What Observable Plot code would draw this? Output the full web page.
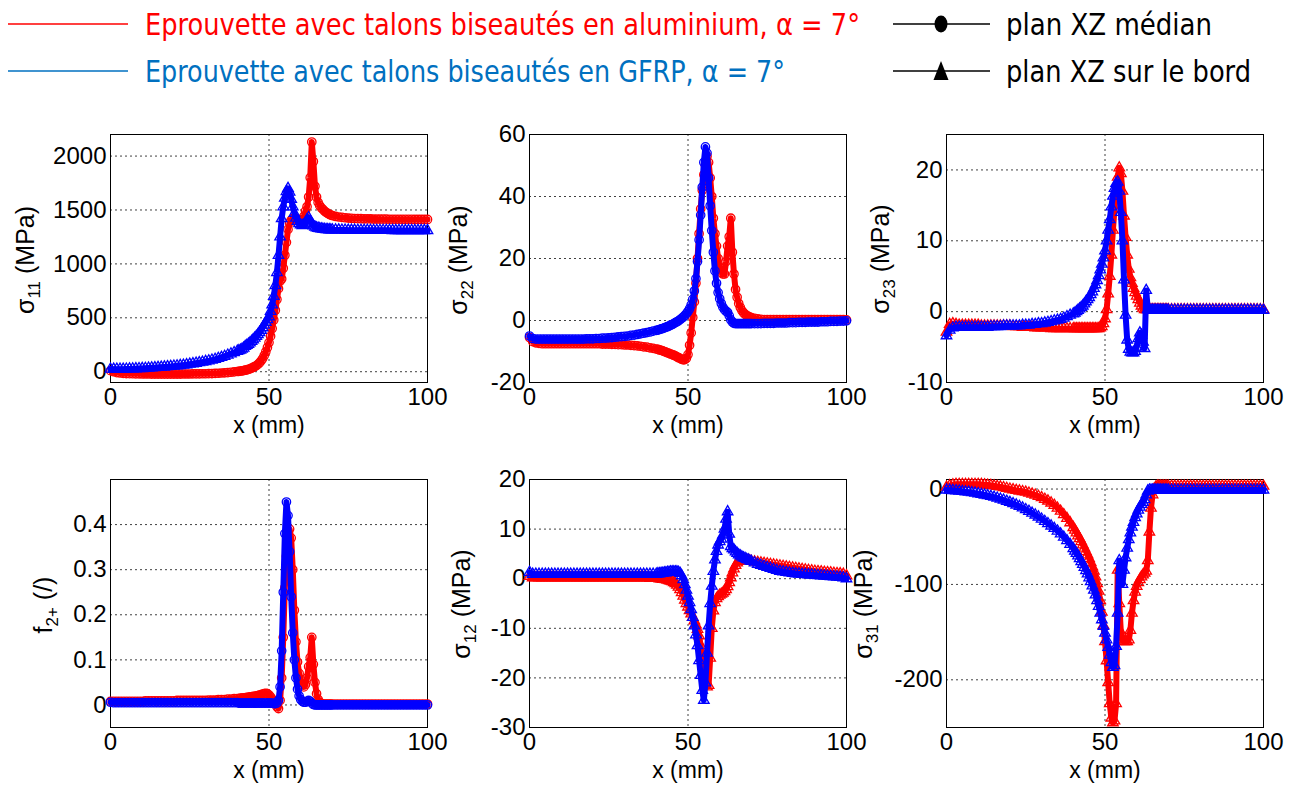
<!DOCTYPE html>
<html lang="fr">
<head>
<meta charset="utf-8">
<script src="https://cdn.jsdelivr.net/npm/d3@7"></script>
<script src="https://cdn.jsdelivr.net/npm/@observablehq/plot@0.6"></script>
<style>
  html, body { margin:0; padding:0; background:#fff; }
  #fig { position:relative; width:1294px; height:785px; overflow:hidden; background:#fff; font-family:"Liberation Sans", Arial, Helvetica, sans-serif; }
  .panel { position:absolute; }
  .panel svg { display:block; max-width:none !important; }
  .ylab { position:absolute; font-size:25px; line-height:1; white-space:nowrap; color:#000; transform:translate(-50%,-50%) rotate(-90deg); }
  .ylab sub { font-size:17px; vertical-align:-0.3em; line-height:1; }
  #legend { position:absolute; left:0; top:0; }
</style>
</head>
<body>
<div id="fig"></div>
<script>
// ---------- DATA ----------
const xGrid = [
0,1,2,3,4,5,6,7,8,9,10,
11,12,13,14,15,16,17,18,19,20,
21,22,23,24,25,26,27,28,29,30,
31,32,33,34,35,36,37,38,39,40,
40.5,41,41.5,42,42.5,43,43.5,44,44.5,45,
45.5,46,46.5,47,47.5,48,48.5,49,49.5,50,
50.5,51,51.5,52,52.5,53,53.5,54,54.5,55,
55.5,56,56.5,57,57.5,58,58.5,59,59.5,60,
60.5,61,61.5,62,62.5,63,63.5,64,64.5,65,
65.5,66,66.5,67,67.5,68,68.5,69,69.5,70,
71,72,73,74,75,76,77,78,79,80,
81,82,83,84,85,86,87,88,89,90,
91,92,93,94,95,96,97,98,99,100];

// sigma11 (MPa)
const sigma11Alu = [
10,0,-8,-12,-15,-17,-18,-19,-20,-20,-21,
-21,-21,-22,-22,-22,-22,-22,-22,-22,-22,
-22,-22,-21,-21,-21,-20,-20,-20,-19,-19,
-18,-17,-16,-14,-12,-10,-8,-5,-2,2,
4,6,8,11,14,18,22,27,33,40,
48,57,68,82,100,122,150,185,225,270,
330,400,480,570,670,770,840,860,960,1080,
1200,1320,1380,1405,1420,1425,1420,1410,1400,1400,
1410,1440,1490,1530,1620,1800,2130,1950,1720,1620,
1570,1540,1520,1505,1490,1478,1468,1460,1452,1447,
1440,1435,1431,1428,1425,1423,1421,1420,1419,1418,
1417,1417,1416,1416,1415,1415,1415,1414,1414,1414,
1414,1413,1413,1413,1413,1412,1412,1412,1412,1412];
const sigma11Gfrp = [
25,24,23,23,24,25,26,27,28,29,30,
32,34,36,38,40,42,44,47,49,52,
55,58,61,65,70,74,79,84,89,95,
101,108,115,124,133,143,154,166,178,190,
195,200,210,220,235,245,255,268,282,297,
312,328,345,364,385,408,432,458,484,510,
560,620,700,800,920,1080,1250,1420,1530,1610,
1670,1700,1665,1600,1530,1470,1425,1395,1375,1362,
1356,1360,1380,1410,1430,1400,1370,1352,1342,1335,
1331,1328,1325,1322,1320,1319,1318,1317,1316,1316,
1315,1315,1314,1314,1313,1313,1313,1312,1312,1312,
1312,1312,1311,1311,1311,1311,1311,1311,1310,1310,
1310,1310,1310,1310,1310,1310,1310,1310,1310,1310];

// sigma22 (MPa)
const sigma22Alu = [
-5.5,-6.8,-7.2,-7.4,-7.5,-7.5,-7.5,-7.5,-7.5,-7.5,-7.5,
-7.5,-7.5,-7.5,-7.5,-7.5,-7.5,-7.5,-7.5,-7.5,-7.5,
-7.5,-7.5,-7.6,-7.6,-7.6,-7.7,-7.7,-7.8,-7.8,-7.9,
-7.9,-8.0,-8.1,-8.2,-8.3,-8.5,-8.6,-8.8,-9.0,-9.2,
-9.3,-9.5,-9.6,-9.8,-10.0,-10.2,-10.4,-10.6,-10.8,-11.0,
-11.2,-11.4,-11.7,-12.0,-12.2,-12.5,-12.7,-12.6,-12.2,-11.0,
-8,-4,1,6,12,20,28,36,42,47,
50,53,51,46,40,33,28,24,20,17,
15.5,15,15,19,24,27,33,22,15,10,
7.5,5.5,4.2,3.2,2.5,2,1.6,1.3,1.1,0.9,
0.7,0.5,0.4,0.3,0.3,0.3,0.3,0.3,0.3,0.3,
0.3,0.3,0.3,0.3,0.3,0.3,0.3,0.3,0.3,0.3,
0.3,0.3,0.3,0.3,0.3,0.3,0.3,0.3,0.3,0.2];
const sigma22Gfrp = [
-5,-5.8,-6,-6,-6,-6,-6,-6,-6,-6,-6,
-6,-6,-6,-6,-6,-6,-6,-5.9,-5.9,-5.9,
-5.8,-5.8,-5.7,-5.7,-5.6,-5.5,-5.4,-5.3,-5.2,-5.1,
-5.0,-4.8,-4.7,-4.5,-4.3,-4.1,-3.9,-3.7,-3.4,-3.2,
-3.1,-2.9,-2.7,-2.6,-2.4,-2.2,-2.0,-1.8,-1.5,-1.3,
-1.0,-0.7,-0.4,-0.1,0.3,0.7,1.1,1.6,2.2,2.9,
3.8,5.0,6.8,9.5,13.5,19,26,34,43,51,
56,54,46,37,29,22,16,12,9,7,
5.5,4.3,3.5,3,2.6,1.5,0.2,-0.5,-0.9,-1.0,
-1,-1,-1,-1,-1,-1,-1,-1,-1,-1,
-1,-1,-1,-0.9,-0.9,-0.9,-0.9,-0.8,-0.8,-0.8,
-0.8,-0.7,-0.7,-0.7,-0.6,-0.6,-0.6,-0.5,-0.5,-0.5,
-0.5,-0.4,-0.4,-0.4,-0.3,-0.3,-0.3,-0.2,-0.2,-0.1];

// sigma23 (MPa)
const sigma23Alu = [
-2.9,-1.8,-1.7,-1.8,-1.9,-1.9,-1.9,-1.9,-1.9,-1.9,-1.9,
-2,-2,-2,-2,-2,-2,-2,-2,-2,-2,
-2.1,-2.1,-2.1,-2.2,-2.2,-2.2,-2.2,-2.3,-2.3,-2.3,
-2.3,-2.3,-2.4,-2.4,-2.4,-2.4,-2.4,-2.4,-2.4,-2.4,
-2.4,-2.4,-2.4,-2.4,-2.4,-2.4,-2.4,-2.4,-2.4,-2.4,
-2.4,-2.4,-2.4,-2.4,-2.4,-2.4,-2.3,-2.1,-1.7,-1.0,
0.3,2.5,5,8,11.5,14.5,17,19,20.3,19.5,
17,13.5,10.5,8,6,4.8,4,3.3,2.7,2.2,
1.7,1.2,0.8,0.5,0.3,0.3,0.3,0.3,0.3,0.3,
0.3,0.3,0.3,0.3,0.3,0.3,0.3,0.3,0.3,0.3,
0.3,0.3,0.3,0.3,0.3,0.3,0.3,0.3,0.3,0.3,
0.3,0.3,0.3,0.3,0.3,0.3,0.3,0.3,0.3,0.3,
0.3,0.3,0.3,0.3,0.3,0.3,0.3,0.3,0.3,0.3];
const sigma23Gfrp = [
-3.4,-2.6,-2.3,-2.2,-2.2,-2.2,-2.2,-2.2,-2.2,-2.2,-2.2,
-2.2,-2.2,-2.2,-2.1,-2.1,-2.1,-2.1,-2.0,-2.0,-2.0,
-2.0,-2.0,-2.0,-1.9,-1.9,-1.9,-1.8,-1.8,-1.7,-1.7,
-1.6,-1.5,-1.4,-1.3,-1.2,-1.1,-0.9,-0.7,-0.5,-0.3,
-0.2,0.0,0.2,0.4,0.6,0.8,1.1,1.4,1.7,2.0,
2.4,2.8,3.3,3.8,4.4,5.1,5.9,6.7,7.6,8.6,
10,11.5,13,14.8,16.3,17.4,18.1,18.3,17,14,
10,4.5,-0.5,-4,-5.3,-5.7,-5.8,-5.8,-5.6,-5.0,
-3.8,-3.0,-3.3,-4.3,-5.2,3.0,0.3,0.2,0.2,0.2,
0.2,0.2,0.2,0.2,0.2,0.2,0.2,0.2,0.2,0.2,
0.2,0.2,0.2,0.2,0.2,0.2,0.2,0.2,0.2,0.2,
0.2,0.2,0.2,0.2,0.2,0.2,0.2,0.2,0.2,0.2,
0.2,0.2,0.2,0.2,0.2,0.2,0.2,0.2,0.2,0.2];

// f2+ (/)
const f2Alu = [
0.008,0.008,0.008,0.008,0.008,0.008,0.008,0.008,0.008,0.008,0.008,
0.009,0.009,0.009,0.009,0.009,0.009,0.009,0.009,0.009,0.009,
0.010,0.010,0.010,0.010,0.010,0.010,0.010,0.010,0.010,0.010,
0.011,0.011,0.011,0.012,0.012,0.012,0.013,0.013,0.014,0.014,
0.014,0.015,0.015,0.016,0.016,0.017,0.017,0.018,0.018,0.019,
0.019,0.020,0.021,0.022,0.023,0.024,0.025,0.026,0.025,0.022,
0.018,0.013,0.008,0.003,-0.004,-0.008,0.01,0.06,0.15,0.26,
0.33,0.37,0.39,0.37,0.30,0.21,0.14,0.095,0.07,0.055,
0.045,0.04,0.045,0.06,0.085,0.105,0.15,0.09,0.05,0.025,
0.012,0.006,0.003,0.002,0.002,0.002,0.002,0.002,0.002,0.002,
0.002,0.002,0.002,0.002,0.002,0.002,0.002,0.002,0.002,0.002,
0.002,0.002,0.002,0.002,0.002,0.002,0.002,0.002,0.002,0.002,
0.002,0.002,0.002,0.002,0.002,0.002,0.002,0.002,0.002,0.002];
const f2Gfrp = [
0.006,0.005,0.005,0.005,0.005,0.005,0.005,0.005,0.005,0.005,0.005,
0.005,0.005,0.005,0.005,0.005,0.005,0.005,0.005,0.005,0.005,
0.005,0.005,0.005,0.005,0.005,0.005,0.005,0.005,0.005,0.005,
0.005,0.005,0.005,0.005,0.005,0.005,0.005,0.005,0.005,0.005,
0.004,0.004,0.004,0.004,0.004,0.004,0.004,0.004,0.004,0.004,
0.004,0.004,0.004,0.004,0.004,0.004,0.004,0.004,0.004,0.004,
0.004,0.004,0.003,0.003,0.004,0.01,0.04,0.12,0.25,0.38,
0.45,0.42,0.34,0.24,0.16,0.10,0.06,0.035,0.02,0.012,
0.008,0.006,0.006,0.008,0.01,0.008,0.004,0.001,0,0,
0,0,0,0,0,0,0,0,0,0,
0,0,0,0,0,0,0,0,0,0,
0,0,0,0,0,0,0,0,0,0,
0,0,0,0,0,0,0,0,0,0];

// sigma12 (MPa)
const sigma12Alu = [
0.5,0.2,0.2,0.2,0.2,0.2,0.2,0.2,0.2,0.2,0.2,
0.2,0.2,0.2,0.2,0.2,0.2,0.2,0.2,0.2,0.2,
0.2,0.2,0.2,0.2,0.2,0.2,0.2,0.2,0.2,0.2,
0.2,0.2,0.2,0.2,0.2,0.2,0.2,0.1,0.1,0.1,
0.1,0.0,0.0,-0.1,-0.1,-0.2,-0.3,-0.4,-0.5,-0.6,
-0.8,-1.0,-1.3,-1.7,-2.2,-2.8,-3.5,-4.3,-5.0,-5.7,
-6.4,-7.1,-7.8,-8.5,-9.3,-10.2,-11.5,-13.5,-16,-18.5,
-20.5,-21.8,-21.5,-16,-10,-6.5,-4.8,-4.0,-3.6,-3.3,
-3.1,-2.9,-2.6,-2.2,-1.6,-0.8,0.2,1.2,2.0,2.7,
3.2,3.5,3.7,3.8,3.8,3.8,3.7,3.7,3.6,3.5,
3.4,3.3,3.2,3.1,3.0,2.9,2.8,2.7,2.6,2.5,
2.4,2.3,2.2,2.1,2.0,1.9,1.8,1.7,1.6,1.5,
1.45,1.4,1.3,1.25,1.2,1.1,1.05,1.0,0.9,0.6];
const sigma12Gfrp = [
1.3,0.9,0.9,0.9,0.9,0.9,0.9,0.9,0.9,0.9,0.9,
0.9,0.9,0.9,0.9,0.9,0.9,0.9,0.9,0.9,0.9,
0.9,0.9,0.9,0.9,0.9,0.9,0.9,0.9,0.9,0.9,
0.9,0.9,0.9,0.9,0.9,0.9,0.9,0.9,0.9,0.9,
1.0,1.0,1.1,1.1,1.2,1.2,1.3,1.3,1.4,1.4,
1.4,1.4,1.4,1.3,1.1,0.6,-0.2,-1.2,-2.3,-3.5,
-4.8,-6.2,-7.8,-9.5,-11.3,-13.5,-16.5,-19.5,-22.5,-24.5,
-21,-15,-9.5,-5,-1.5,1.5,3.8,5.5,6.8,7.5,
8,8.8,10,12,13.5,9,6.5,6.1,5.8,5.4,
5.1,4.8,4.6,4.4,4.2,4.1,3.9,3.8,3.6,3.5,
3.2,2.9,2.7,2.5,2.3,2.1,1.9,1.7,1.5,1.4,
1.3,1.2,1.1,1.0,0.95,0.9,0.85,0.8,0.75,0.7,
0.65,0.6,0.55,0.5,0.45,0.4,0.35,0.3,0.2,0.0];

// sigma31 (MPa)
const sigma31Alu = [
2,3.5,4.5,5,5,5,5,5,5,5,5,
4.8,4.5,4.2,3.8,3.3,2.8,2.2,1.5,0.8,0,
-0.7,-1.4,-2,-2.6,-3.3,-4.2,-5.2,-6.3,-7.6,-9,
-10.7,-12.5,-14.6,-17,-20,-23.2,-26.8,-30.8,-35.3,-40.3,
-43,-46,-49,-52,-55,-58.5,-62,-65.5,-69,-73,
-77,-81.5,-86,-92,-99,-107,-117,-129,-143,-160,
-180,-203,-225,-240,-245,-243,-225,-85,-120,-150,
-158,-160,-160,-160,-158,-148,-130,-117,-108,-102,
-98,-95,-92,-90,-88,-86,-75,-45,-20,-6,
0,2,3,3,3,3,3,3,3,3,
3,3,3,3,3,3,3,3,3,3,
3,3,3,3,3,3,3,3,3,3,
3,3,3,3,3,3,3,3,3,3];
const sigma31Gfrp = [
-1,-1.2,-1.5,-1.8,-2.1,-2.5,-2.9,-3.3,-3.8,-4.3,-4.9,
-5.5,-6.2,-6.9,-7.7,-8.5,-9.5,-10.5,-11.6,-12.8,-14,
-15.3,-16.7,-18.2,-19.8,-21.5,-23.3,-25.2,-27.2,-29.3,-31.5,
-33.8,-36.2,-38.7,-41.3,-44,-47,-50.3,-54,-58,-62.5,
-65,-67.5,-70,-73,-76,-79,-82,-85.5,-89,-93,
-97,-101.5,-106,-111,-117,-123,-130,-137,-144,-151,
-158,-166,-174,-182,-187,-185,-165,-130,-75,-85,
-100,-85,-72,-62,-53,-46,-40,-35,-30,-26,
-22,-19,-16,-14,-11,-6,-2,-1,-1,-1,
-1,-1,-1,-1,-1,-1,-1,-1,-1,-1,
-1,-1,-1,-1,-1,-1,-1,-1,-1,-1,
-1,-1,-1,-1,-1,-1,-1,-1,-1,-1,
-1,-1,-1,-1,-1,-1,-1,-1,-1,-1];

// ticks
const xTicks = [0, 50, 100];
const ticks11 = [0, 500, 1000, 1500, 2000];
const ticks22 = [-20, 0, 20, 40, 60];
const ticks23 = [-10, 0, 10, 20];
const ticksF2 = [0, 0.1, 0.2, 0.3, 0.4];
const ticks12 = [-30, -20, -10, 0, 10, 20];
const ticks31 = [-200, -100, 0];

// legend texts
const seriesNames = ["Eprouvette avec talons biseautés en aluminium, α = 7°", "Eprouvette avec talons biseautés en GFRP, α = 7°"];
const seriesColors = ["#ff0000", "#0000ff"];
const legendTextColors = ["#ff0000", "#0070c0"];
const planNames = ["plan XZ médian", "plan XZ sur le bord"];

// ---------- DRAW ----------
const fig = document.getElementById("fig");
const NS = "http://www.w3.org/2000/svg";
function svgEl(tag, attrs, parent) {
  const e = document.createElementNS(NS, tag);
  for (const k in attrs) e.setAttribute(k, attrs[k]);
  if (parent) parent.appendChild(e);
  return e;
}

// Legend
const leg = svgEl("svg", {id: "legend", width: 1294, height: 100});
fig.appendChild(leg);
const legFont = '"Liberation Sans Narrow", "DejaVu Sans Condensed", "Noto Sans", sans-serif';
[[24, 35, 715], [71, 82, 640]].forEach(([ly, by, tl], i) => {
  svgEl("line", {x1: 8, x2: 128, y1: ly, y2: ly, stroke: legendTextColors[i], "stroke-width": 1.5}, leg);
  const t = svgEl("text", {x: 145, y: by, fill: legendTextColors[i], "font-size": 30, "font-family": legFont, textLength: tl, lengthAdjust: "spacingAndGlyphs"}, leg);
  t.textContent = seriesNames[i];
});
[[24, 35, 206], [71, 82, 245]].forEach(([ly, by, tl], i) => {
  svgEl("line", {x1: 893, x2: 990, y1: ly, y2: ly, stroke: "#000", "stroke-width": 1.5}, leg);
  if (i === 0) svgEl("ellipse", {cx: 941, cy: ly, rx: 6.5, ry: 8.5, fill: "#000"}, leg);
  else svgEl("path", {d: `M941,${ly - 10}L948.5,${ly + 9}L933.5,${ly + 9}Z`, fill: "#000"}, leg);
  const t = svgEl("text", {x: 1006, y: by, fill: "#000", "font-size": 30, "font-family": legFont, textLength: tl, lengthAdjust: "spacingAndGlyphs"}, leg);
  t.textContent = planNames[i];
});

const panels = [
  {fl: 110, ft: 134, yDomain: [-100, 2200], yTicks: ticks11, alu: sigma11Alu, gfrp: sigma11Gfrp, aluSym: "circle", gfrpSym: "triangle", label: "σ<sub>11</sub> (MPa)", lx: 28, ly: 260},
  {fl: 529, ft: 134, yDomain: [-20, 60], yTicks: ticks22, alu: sigma22Alu, gfrp: sigma22Gfrp, aluSym: "circle", gfrpSym: "circle", label: "σ<sub>22</sub> (MPa)", lx: 461, ly: 260},
  {fl: 946, ft: 134, yDomain: [-10, 25], yTicks: ticks23, alu: sigma23Alu, gfrp: sigma23Gfrp, aluSym: "triangle", gfrpSym: "triangle", label: "σ<sub>23</sub> (MPa)", lx: 883, ly: 259},
  {fl: 110, ft: 479, yDomain: [-0.05, 0.5], yTicks: ticksF2, alu: f2Alu, gfrp: f2Gfrp, aluSym: "circle", gfrpSym: "circle", label: "f<sub>2+</sub> (/)", lx: 46, ly: 605},
  {fl: 529, ft: 479, yDomain: [-30, 20], yTicks: ticks12, alu: sigma12Alu, gfrp: sigma12Gfrp, aluSym: "triangle", gfrpSym: "triangle", label: "σ<sub>12</sub> (MPa)", lx: 464, ly: 604},
  {fl: 946, ft: 479, yDomain: [-250, 10], yTicks: ticks31, alu: sigma31Alu, gfrp: sigma31Gfrp, aluSym: "triangle", gfrpSym: "triangle", label: "σ<sub>31</sub> (MPa)", lx: 866, ly: 604}
];

const mL = 80, mR = 30, mT = 12, mB = 60, fw = 317, fh = 248;
const gridStyle = {stroke: "#000", strokeOpacity: 0.75, strokeWidth: 1, strokeDasharray: "2,3"};

panels.forEach(p => {
  const aluData = xGrid.map((x, i) => ({x, y: p.alu[i]}));
  const gfData = xGrid.map((x, i) => ({x, y: p.gfrp[i]}));
  const rOf = s => s === "circle" ? 4.2 : 3.9;
  const seriesMarks = (data, color, sym) => [
    Plot.line(data, {x: "x", y: "y", stroke: color, strokeWidth: 6, strokeLinejoin: "round", strokeLinecap: "round"}),
    Plot.dot(data, {x: "x", y: "y", stroke: color, fill: "none", symbol: sym, r: rOf(sym), strokeWidth: 1.3})
  ];
  const chart = Plot.plot({
    width: mL + fw + mR, height: mT + fh + mB,
    marginLeft: mL, marginRight: mR, marginTop: mT, marginBottom: mB,
    style: {background: "transparent", overflow: "visible", fontSize: "24px", fontFamily: '"Liberation Sans", Arial, sans-serif', color: "#000"},
    x: {domain: [0, 100], ticks: xTicks, tickSize: 0, tickPadding: 5, tickFormat: d => String(d), label: null},
    y: {domain: p.yDomain, ticks: p.yTicks, tickSize: 0, tickPadding: 4, tickFormat: d => String(d), label: null},
    marks: [
      Plot.ruleY(p.yTicks, gridStyle),
      Plot.ruleX(xTicks, gridStyle),
      Plot.frame({stroke: "#000", strokeWidth: 1}),
      ...seriesMarks(aluData, seriesColors[0], p.aluSym),
      ...seriesMarks(gfData, seriesColors[1], p.gfrpSym),
      Plot.text(["x (mm)"], {text: d => d, frameAnchor: "bottom", dy: 50, fontSize: 23, fill: "#000"})
    ]
  });
  const wrap = document.createElement("div");
  wrap.className = "panel";
  wrap.style.left = (p.fl - mL) + "px";
  wrap.style.top = (p.ft - mT) + "px";
  wrap.appendChild(chart);
  fig.appendChild(wrap);
  const lab = document.createElement("div");
  lab.className = "ylab";
  lab.style.left = p.lx + "px";
  lab.style.top = p.ly + "px";
  lab.innerHTML = p.label;
  fig.appendChild(lab);
});
</script>
</body>
</html>
